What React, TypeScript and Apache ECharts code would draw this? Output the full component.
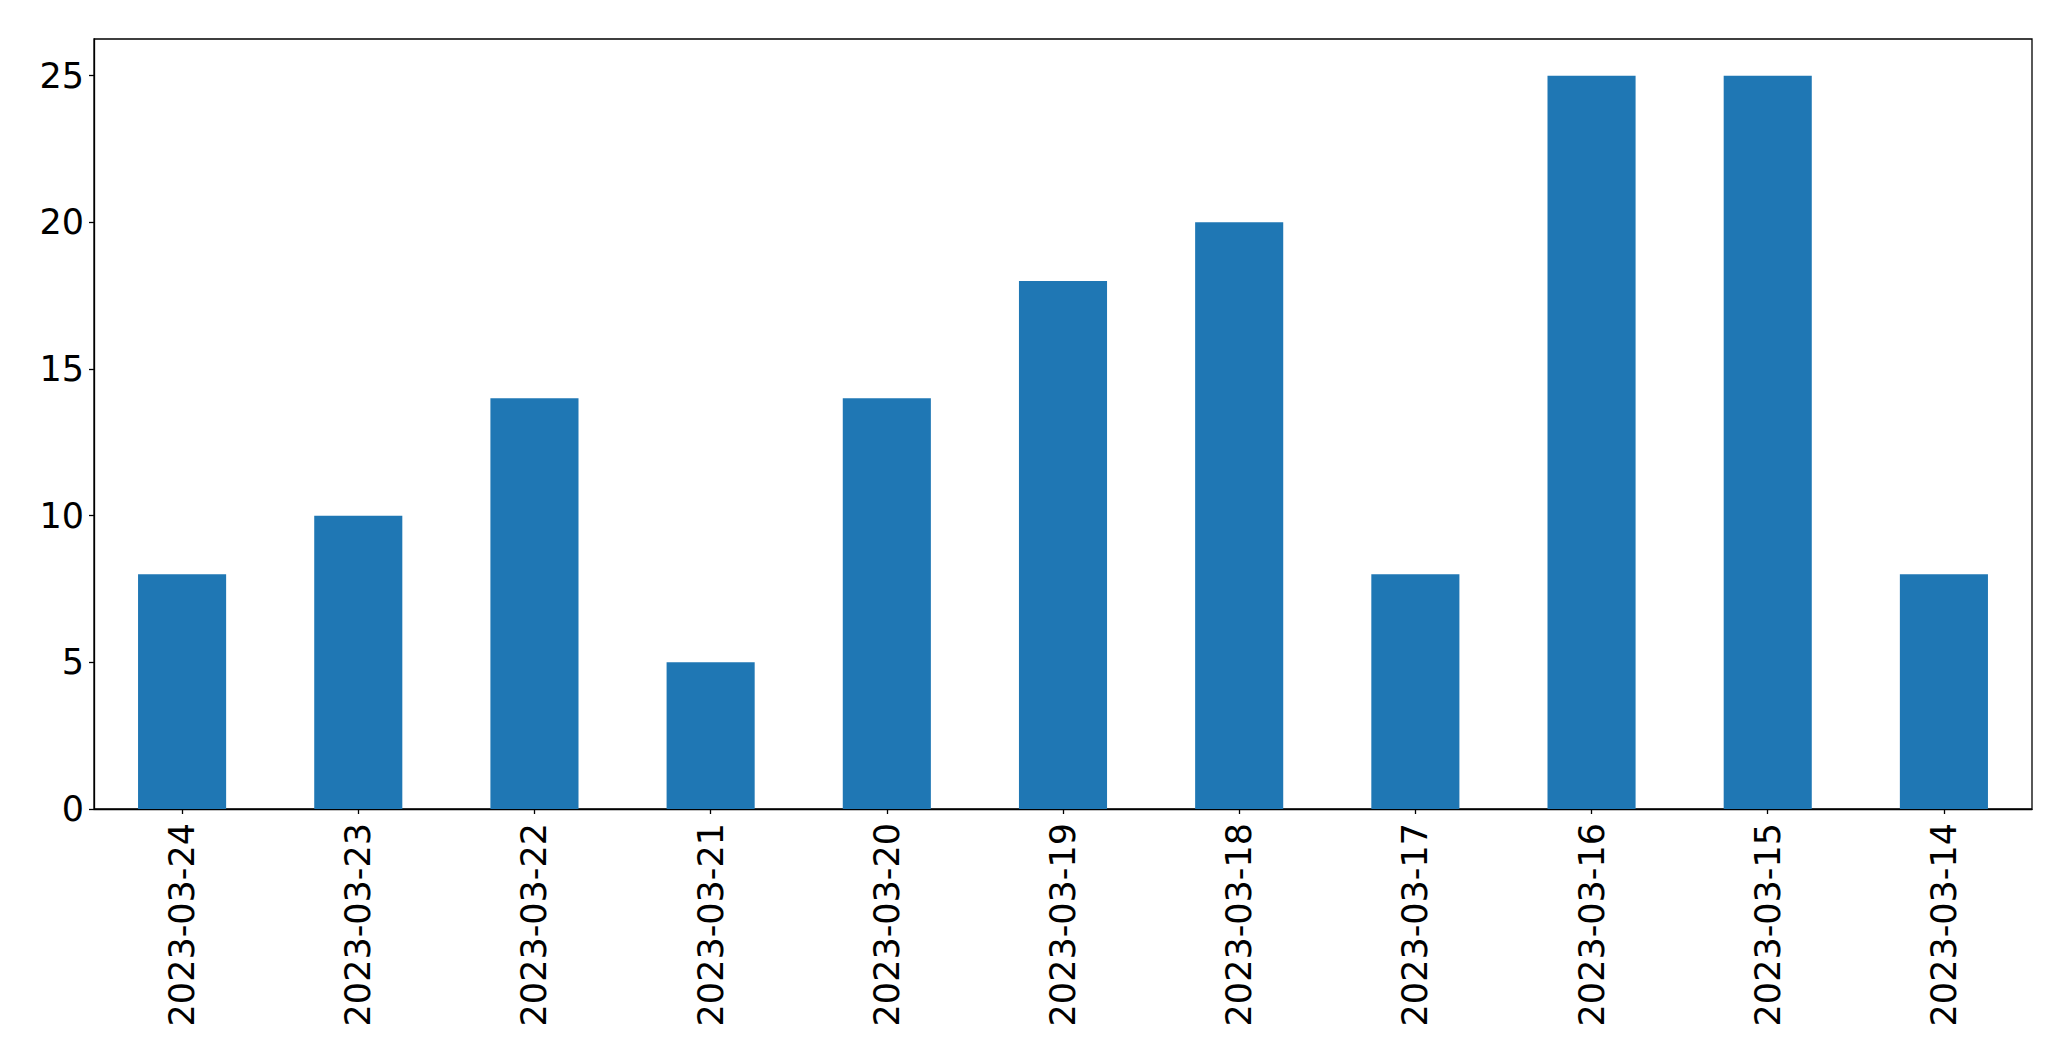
import React, { useEffect, useRef } from "react";
import * as echarts from "echarts";

const categories = [
  "2023-03-24", "2023-03-23", "2023-03-22", "2023-03-21", "2023-03-20", "2023-03-19",
  "2023-03-18", "2023-03-17", "2023-03-16", "2023-03-15", "2023-03-14",
];
const values = [8, 10, 14, 5, 14, 18, 20, 8, 25, 25, 8];
const yMax = 26.25;

export default function App() {
  const ref = useRef<HTMLDivElement>(null);
  useEffect(() => {
    if (!ref.current) return;
    const chart = echarts.init(ref.current, undefined, { renderer: "svg" });
    const font = "DejaVu Sans";
    chart.setOption({
      animation: false,
      backgroundColor: "#ffffff",
      grid: {
        left: 94,
        top: 39,
        right: 39,
        bottom: 252,
        show: true,
        borderColor: "#000000",
        borderWidth: 1.3,
        containLabel: false,
      },
      xAxis: {
        type: "category",
        data: categories,
        boundaryGap: true,
        axisLine: { show: true, lineStyle: { color: "#000", width: 1.3 } },
        axisTick: { show: true, alignWithLabel: true, length: 5, lineStyle: { color: "#000", width: 1.3 } },
        axisLabel: {
          rotate: 90,
          interval: 0,
          margin: 14,
          fontFamily: font,
          fontSize: 35,
          color: "#000",
        },
        splitLine: { show: false },
      },
      yAxis: {
        type: "value",
        min: 0,
        max: yMax,
        interval: 5,
        axisLine: { show: true, lineStyle: { color: "#000", width: 1.3 } },
        axisTick: { show: true, length: 5, lineStyle: { color: "#000", width: 1.3 } },
        axisLabel: {
          fontFamily: font,
          fontSize: 35,
          color: "#000",
          margin: 10,
          showMaxLabel: false,
          formatter: (v: number) => (v % 5 === 0 ? String(v) : ""),
        },
        splitLine: { show: false },
      },
      series: [
        {
          type: "bar",
          data: values,
          barWidth: "50%",
          itemStyle: { color: "#1f77b4" },
        },
      ],
    });
    return () => chart.dispose();
  }, []);
  return (
    <div
      ref={ref}
      style={{ position: "fixed", left: 0, top: 0, width: 2071, height: 1061 }}
    />
  );
}
